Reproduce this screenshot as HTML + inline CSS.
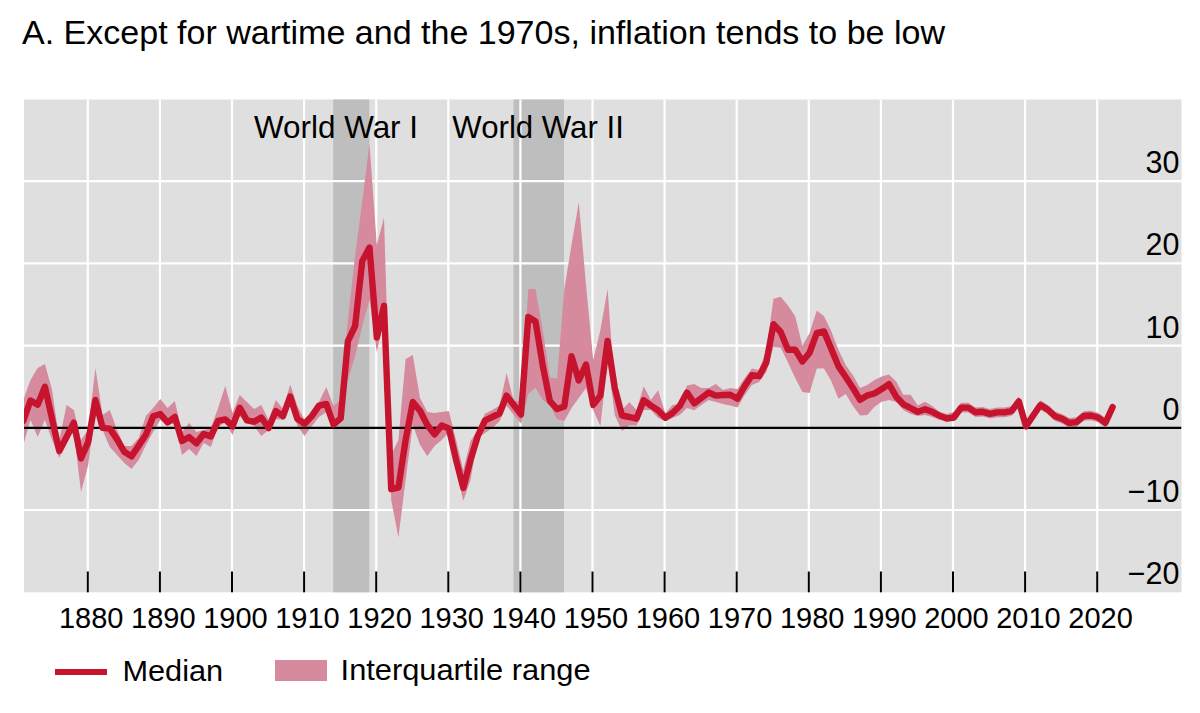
<!DOCTYPE html>
<html><head><meta charset="utf-8"><style>
html,body{margin:0;padding:0;background:#fff;width:1200px;height:713px;overflow:hidden}
svg{display:block;font-family:"Liberation Sans",sans-serif}
</style></head><body>
<svg width="1200" height="713" viewBox="0 0 1200 713">
<defs><clipPath id="pc"><rect x="24" y="99.5" width="1157.5" height="492.79999999999995"/></clipPath></defs>
<text x="22" y="43.5" font-size="34" fill="#000" textLength="923" lengthAdjust="spacingAndGlyphs">A. Except for wartime and the 1970s, inflation tends to be low</text>
<rect x="24" y="99.5" width="1157.5" height="492.79999999999995" fill="#dfdfdf"/>
<rect x="333.2" y="99.5" width="36.1" height="492.79999999999995" fill="#bebebe"/>
<rect x="513.5" y="99.5" width="50.5" height="492.79999999999995" fill="#bebebe"/>
<g stroke="#fff" stroke-width="2.2"><line x1="87.8" y1="99.5" x2="87.8" y2="592.3"/><line x1="159.9" y1="99.5" x2="159.9" y2="592.3"/><line x1="232.0" y1="99.5" x2="232.0" y2="592.3"/><line x1="304.1" y1="99.5" x2="304.1" y2="592.3"/><line x1="376.2" y1="99.5" x2="376.2" y2="592.3"/><line x1="448.3" y1="99.5" x2="448.3" y2="592.3"/><line x1="520.4" y1="99.5" x2="520.4" y2="592.3"/><line x1="592.5" y1="99.5" x2="592.5" y2="592.3"/><line x1="664.6" y1="99.5" x2="664.6" y2="592.3"/><line x1="736.7" y1="99.5" x2="736.7" y2="592.3"/><line x1="808.8" y1="99.5" x2="808.8" y2="592.3"/><line x1="880.9" y1="99.5" x2="880.9" y2="592.3"/><line x1="953.0" y1="99.5" x2="953.0" y2="592.3"/><line x1="1025.1" y1="99.5" x2="1025.1" y2="592.3"/><line x1="1097.2" y1="99.5" x2="1097.2" y2="592.3"/><line x1="24" y1="181.2" x2="1181.5" y2="181.2"/><line x1="24" y1="263.4" x2="1181.5" y2="263.4"/><line x1="24" y1="345.6" x2="1181.5" y2="345.6"/><line x1="24" y1="510.0" x2="1181.5" y2="510.0"/></g>
<g clip-path="url(#pc)">
<path d="M23.3,400.0 L30.5,380.0 L37.7,368.0 L44.9,364.0 L52.1,390.0 L59.3,440.0 L66.6,405.0 L73.8,410.0 L81.0,440.0 L88.2,430.0 L95.4,368.0 L102.6,415.0 L109.8,410.0 L117.1,430.0 L124.3,446.0 L131.5,446.0 L138.7,438.0 L145.9,416.0 L153.1,408.0 L160.3,399.0 L167.6,408.0 L174.8,401.0 L182.0,432.0 L189.2,423.0 L196.4,432.0 L203.6,430.0 L210.8,428.0 L218.1,408.0 L225.3,386.0 L232.5,413.0 L239.7,395.0 L246.9,402.0 L254.1,409.0 L261.3,405.0 L268.6,420.0 L275.8,400.0 L283.0,409.0 L290.2,384.5 L297.4,406.0 L304.6,420.0 L311.8,412.0 L319.0,402.0 L326.3,387.0 L333.5,406.0 L340.7,400.0 L347.9,320.0 L355.1,256.0 L362.3,201.0 L369.5,143.5 L376.8,245.0 L384.0,217.5 L391.2,455.0 L398.4,440.0 L405.6,359.0 L412.8,355.0 L420.0,398.0 L427.3,412.0 L434.5,413.0 L441.7,412.0 L448.9,411.0 L456.1,440.0 L463.3,470.0 L470.5,441.0 L477.8,430.0 L485.0,413.5 L492.2,410.0 L499.4,405.7 L506.6,373.1 L513.8,401.0 L521.0,401.2 L528.3,289.0 L535.5,289.0 L542.7,330.0 L549.9,377.6 L557.1,378.7 L564.3,289.3 L571.5,245.0 L578.8,202.3 L586.0,285.0 L593.2,360.0 L600.4,330.0 L607.6,288.7 L614.8,390.0 L622.0,410.0 L629.3,402.0 L636.5,410.0 L643.7,386.3 L650.9,400.0 L658.1,390.2 L665.3,413.3 L672.5,405.0 L679.7,404.0 L687.0,385.5 L694.2,384.0 L701.4,388.0 L708.6,388.0 L715.8,384.0 L723.0,390.0 L730.2,388.0 L737.5,389.0 L744.7,378.0 L751.9,368.4 L759.1,370.0 L766.3,350.0 L773.5,298.7 L780.7,296.7 L788.0,305.5 L795.2,316.3 L802.4,345.8 L809.6,333.0 L816.8,310.4 L824.0,316.3 L831.2,331.0 L838.5,350.0 L845.7,365.0 L852.9,375.2 L860.1,387.9 L867.3,385.0 L874.5,380.0 L881.7,376.5 L889.0,374.6 L896.2,381.5 L903.4,394.8 L910.6,394.8 L917.8,405.5 L925.0,401.7 L932.2,406.0 L939.5,412.0 L946.7,414.0 L953.9,412.0 L961.1,402.8 L968.3,402.8 L975.5,407.5 L982.7,407.0 L990.0,409.0 L997.2,407.6 L1004.4,407.6 L1011.6,406.2 L1018.8,396.5 L1026.0,421.5 L1033.2,410.7 L1040.4,400.2 L1047.7,404.7 L1054.9,411.4 L1062.1,413.9 L1069.3,418.1 L1076.5,417.3 L1083.7,411.2 L1090.9,410.7 L1098.2,412.7 L1105.4,418.0 L1112.6,402.4 L1112.6,412.0 L1105.4,427.6 L1098.2,422.3 L1090.9,420.3 L1083.7,420.8 L1076.5,426.9 L1069.3,427.7 L1062.1,423.5 L1054.9,421.0 L1047.7,414.3 L1040.4,409.8 L1033.2,420.3 L1026.0,431.1 L1018.8,406.1 L1011.6,415.8 L1004.4,417.2 L997.2,417.2 L990.0,418.6 L982.7,416.6 L975.5,417.1 L968.3,412.4 L961.1,412.4 L953.9,421.3 L946.7,420.7 L939.5,420.0 L932.2,417.0 L925.0,415.0 L917.8,416.0 L910.6,414.0 L903.4,410.0 L896.2,402.0 L889.0,400.0 L881.7,401.7 L874.5,406.8 L867.3,415.0 L860.1,415.6 L852.9,406.0 L845.7,394.0 L838.5,398.8 L831.2,381.0 L824.0,368.4 L816.8,368.4 L809.6,393.0 L802.4,392.0 L795.2,378.0 L788.0,362.5 L780.7,347.8 L773.5,346.8 L766.3,372.0 L759.1,382.0 L751.9,385.0 L744.7,395.0 L737.5,407.6 L730.2,405.6 L723.0,404.0 L715.8,402.0 L708.6,400.0 L701.4,405.0 L694.2,410.2 L687.0,408.0 L679.7,415.0 L672.5,418.0 L665.3,421.0 L658.1,418.0 L650.9,410.0 L643.7,410.0 L636.5,425.6 L629.3,425.6 L622.0,431.0 L614.8,415.0 L607.6,360.3 L600.4,425.9 L593.2,410.0 L586.0,388.0 L578.8,398.0 L571.5,408.0 L564.3,421.0 L557.1,419.0 L549.9,405.0 L542.7,400.0 L535.5,387.7 L528.3,394.0 L521.0,423.6 L513.8,415.0 L506.6,405.7 L499.4,421.4 L492.2,428.0 L485.0,433.0 L477.8,438.0 L470.5,480.0 L463.3,500.8 L456.1,470.0 L448.9,432.0 L441.7,440.0 L434.5,446.0 L427.3,456.0 L420.0,445.0 L412.8,425.0 L405.6,480.0 L398.4,537.6 L391.2,500.0 L384.0,320.0 L376.8,352.0 L369.5,300.0 L362.3,326.0 L355.1,356.0 L347.9,380.0 L340.7,422.0 L333.5,427.0 L326.3,412.0 L319.0,417.0 L311.8,426.0 L304.6,436.0 L297.4,426.0 L290.2,403.0 L283.0,420.0 L275.8,419.0 L268.6,430.0 L261.3,436.0 L254.1,426.0 L246.9,423.0 L239.7,416.0 L232.5,435.0 L225.3,422.0 L218.1,427.0 L210.8,447.0 L203.6,443.0 L196.4,456.0 L189.2,449.0 L182.0,455.0 L174.8,424.0 L167.6,424.0 L160.3,420.0 L153.1,432.0 L145.9,445.0 L138.7,460.0 L131.5,469.0 L124.3,463.0 L117.1,455.0 L109.8,447.0 L102.6,430.0 L95.4,410.0 L88.2,465.0 L81.0,492.0 L73.8,432.0 L66.6,440.0 L59.3,458.0 L52.1,440.0 L44.9,420.0 L37.7,437.0 L30.5,420.0 L23.3,445.0 Z" fill="#d68a9e"/>
<line x1="24" y1="427.8" x2="1181.5" y2="427.8" stroke="#000" stroke-width="2.2"/>
<path d="M23.3,421.0 L30.5,400.5 L37.7,404.7 L44.9,386.8 L52.1,419.0 L59.3,451.0 L66.6,437.0 L73.8,422.6 L81.0,458.4 L88.2,442.0 L95.4,400.0 L102.6,427.9 L109.8,428.6 L117.1,439.4 L124.3,451.8 L131.5,456.4 L138.7,445.6 L145.9,434.8 L153.1,416.3 L160.3,414.0 L167.6,422.5 L174.8,417.0 L182.0,441.0 L189.2,437.1 L196.4,443.3 L203.6,434.0 L210.8,436.4 L218.1,420.9 L225.3,419.4 L232.5,426.3 L239.7,407.7 L246.9,420.3 L254.1,421.7 L261.3,417.5 L268.6,428.0 L275.8,411.0 L283.0,416.1 L290.2,396.5 L297.4,418.9 L304.6,423.8 L311.8,416.1 L319.0,405.6 L326.3,404.0 L333.5,424.5 L340.7,418.4 L347.9,341.1 L355.1,326.0 L362.3,261.0 L369.5,247.5 L376.8,337.5 L384.0,305.7 L391.2,489.0 L398.4,487.5 L405.6,440.0 L412.8,402.0 L420.0,410.8 L427.3,425.0 L434.5,434.4 L441.7,425.5 L448.9,428.5 L456.1,460.0 L463.3,488.0 L470.5,460.0 L477.8,436.0 L485.0,420.3 L492.2,417.0 L499.4,413.5 L506.6,395.6 L513.8,405.0 L521.0,414.6 L528.3,317.0 L535.5,321.5 L542.7,365.3 L549.9,401.2 L557.1,409.1 L564.3,406.5 L571.5,356.1 L578.8,380.5 L586.0,364.5 L593.2,404.9 L600.4,395.6 L607.6,340.9 L614.8,388.0 L622.0,415.5 L629.3,417.0 L636.5,418.7 L643.7,400.2 L650.9,405.6 L658.1,410.2 L665.3,417.9 L672.5,413.0 L679.7,406.0 L687.0,392.5 L694.2,403.3 L701.4,398.0 L708.6,392.5 L715.8,395.6 L723.0,395.0 L730.2,394.8 L737.5,398.8 L744.7,386.0 L751.9,375.2 L759.1,376.2 L766.3,362.5 L773.5,324.2 L780.7,332.0 L788.0,349.7 L795.2,349.7 L802.4,361.5 L809.6,352.7 L816.8,333.0 L824.0,331.5 L831.2,348.7 L838.5,366.4 L845.7,377.0 L852.9,387.9 L860.1,399.8 L867.3,395.4 L874.5,393.5 L881.7,389.1 L889.0,384.1 L896.2,396.7 L903.4,404.3 L910.6,408.0 L917.8,411.8 L925.0,409.3 L932.2,411.8 L939.5,415.6 L946.7,418.5 L953.9,417.5 L961.1,407.6 L968.3,407.6 L975.5,412.3 L982.7,411.8 L990.0,413.8 L997.2,412.4 L1004.4,412.4 L1011.6,411.0 L1018.8,401.3 L1026.0,426.3 L1033.2,415.5 L1040.4,405.0 L1047.7,409.5 L1054.9,416.2 L1062.1,418.7 L1069.3,422.9 L1076.5,422.1 L1083.7,416.0 L1090.9,415.5 L1098.2,417.5 L1105.4,422.8 L1112.6,407.2" fill="none" stroke="#c6142e" stroke-width="6.4" stroke-linejoin="round" stroke-linecap="round"/>
</g>
<g stroke="#000" stroke-width="2"><line x1="87.8" y1="571.5" x2="87.8" y2="592.3"/><line x1="159.9" y1="571.5" x2="159.9" y2="592.3"/><line x1="232.0" y1="571.5" x2="232.0" y2="592.3"/><line x1="304.1" y1="571.5" x2="304.1" y2="592.3"/><line x1="376.2" y1="571.5" x2="376.2" y2="592.3"/><line x1="448.3" y1="571.5" x2="448.3" y2="592.3"/><line x1="520.4" y1="571.5" x2="520.4" y2="592.3"/><line x1="592.5" y1="571.5" x2="592.5" y2="592.3"/><line x1="664.6" y1="571.5" x2="664.6" y2="592.3"/><line x1="736.7" y1="571.5" x2="736.7" y2="592.3"/><line x1="808.8" y1="571.5" x2="808.8" y2="592.3"/><line x1="880.9" y1="571.5" x2="880.9" y2="592.3"/><line x1="953.0" y1="571.5" x2="953.0" y2="592.3"/><line x1="1025.1" y1="571.5" x2="1025.1" y2="592.3"/><line x1="1097.2" y1="571.5" x2="1097.2" y2="592.3"/></g>
<g font-size="31.5" fill="#000">
<text x="254" y="137.5" textLength="164" lengthAdjust="spacingAndGlyphs">World War I</text>
<text x="452.3" y="137.5" textLength="171.5" lengthAdjust="spacingAndGlyphs">World War II</text>
</g>
<g font-size="30.5" fill="#000"><text x="1179.5" y="173.2" text-anchor="end">30</text><text x="1179.5" y="255.4" text-anchor="end">20</text><text x="1179.5" y="337.6" text-anchor="end">10</text><text x="1179.5" y="419.8" text-anchor="end">0</text><text x="1179.5" y="502.0" text-anchor="end">−10</text><text x="1179.5" y="584.2" text-anchor="end">−20</text></g>
<g font-size="29" fill="#000"><text x="91.2" y="627.8" text-anchor="middle">1880</text><text x="163.3" y="627.8" text-anchor="middle">1890</text><text x="235.4" y="627.8" text-anchor="middle">1900</text><text x="307.5" y="627.8" text-anchor="middle">1910</text><text x="379.6" y="627.8" text-anchor="middle">1920</text><text x="451.7" y="627.8" text-anchor="middle">1930</text><text x="523.8" y="627.8" text-anchor="middle">1940</text><text x="595.9" y="627.8" text-anchor="middle">1950</text><text x="668.0" y="627.8" text-anchor="middle">1960</text><text x="740.1" y="627.8" text-anchor="middle">1970</text><text x="812.2" y="627.8" text-anchor="middle">1980</text><text x="884.3" y="627.8" text-anchor="middle">1990</text><text x="956.4" y="627.8" text-anchor="middle">2000</text><text x="1028.5" y="627.8" text-anchor="middle">2010</text><text x="1100.6" y="627.8" text-anchor="middle">2020</text></g>
<rect x="55" y="669" width="52" height="6" fill="#c6142e"/>
<text x="122.4" y="681.3" font-size="30" textLength="100.8" lengthAdjust="spacingAndGlyphs">Median</text>
<rect x="275" y="660" width="52" height="21" fill="#d68a9e"/>
<text x="340.6" y="680" font-size="30" textLength="250" lengthAdjust="spacingAndGlyphs">Interquartile range</text>
</svg>
</body></html>
